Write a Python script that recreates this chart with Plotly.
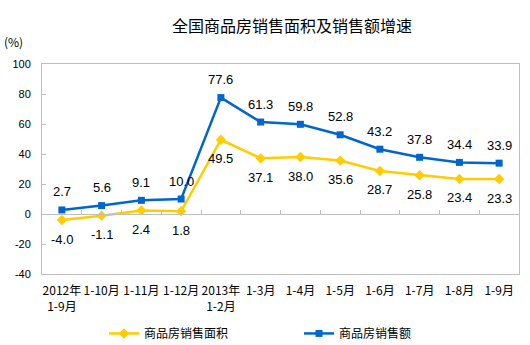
import plotly.graph_objects as go

categories = ["2012年<br>1-9月", "1-10月", "1-11月", "1-12月", "2013年<br>1-2月",
              "1-3月", "1-4月", "1-5月", "1-6月", "1-7月", "1-8月", "1-9月"]
area_growth = [-4.0, -1.1, 2.4, 1.8, 49.5, 37.1, 38.0, 35.6, 28.7, 25.8, 23.4, 23.3]
sales_growth = [2.7, 5.6, 9.1, 10.0, 77.6, 61.3, 59.8, 52.8, 43.2, 37.8, 34.4, 33.9]
area_name = "商品房销售面积"
sales_name = "商品房销售额"
yticks = [-40, -20, 0, 20, 40, 60, 80, 100]
ytick_labels = ["-40", "-20", "0", "20", "40", "60", "80", "100"]

YELLOW = "#FFCC00"
BLUE = "#0066CC"
GRAY = "#BFBFBF"
NUM_FONT = "Liberation Sans, Arial, sans-serif"
CJK_FONT = "Noto Sans CJK SC, sans-serif"

xs = list(range(len(categories)))

fig = go.Figure()
fig.add_trace(go.Scatter(
    x=xs, y=area_growth, name=area_name, mode="lines+markers",
    line=dict(color=YELLOW, width=2.5),
    marker=dict(symbol="diamond", size=8, color=YELLOW),
))
fig.add_trace(go.Scatter(
    x=xs, y=sales_growth, name=sales_name, mode="lines+markers",
    line=dict(color=BLUE, width=2.5),
    marker=dict(symbol="square", size=7, color=BLUE),
))
# helper trace for the zero axis with its category ticks
fig.add_trace(go.Scatter(x=[], y=[], xaxis="x2", showlegend=False, hoverinfo="skip"))

annotations = []
for i, v in enumerate(sales_growth):
    annotations.append(dict(x=i, y=v, text=f"{v:.1f}", showarrow=False, yshift=18,
                            font=dict(family=NUM_FONT, size=13, color="#000")))
for i, v in enumerate(area_growth):
    annotations.append(dict(x=i, y=v, text=f"{v:.1f}", showarrow=False, yshift=-19,
                            font=dict(family=NUM_FONT, size=13, color="#000")))
annotations.append(dict(xref="paper", yref="paper", x=-0.083, y=1.105, xanchor="left",
                        yanchor="middle", text="(%)", showarrow=False,
                        font=dict(family=CJK_FONT, size=12, color="#000")))

n = len(categories)
fig.update_layout(
    width=530, height=345,
    margin=dict(l=42, r=11, t=64, b=71, autoexpand=False),
    paper_bgcolor="white", plot_bgcolor="white",
    title=dict(text="全国商品房销售面积及销售额增速", x=0.551, xanchor="center",
               y=1 - 26 / 345, yanchor="middle",
               font=dict(family=CJK_FONT, size=16, color="#000")),
    xaxis=dict(range=[-0.5, n - 0.5], tickvals=xs, ticktext=categories,
               showgrid=False, zeroline=False, showline=True, linecolor=GRAY,
               linewidth=1, mirror=True, ticks="", ticklabelstandoff=6,
               tickfont=dict(family=CJK_FONT, size=12, color="#000")),
    xaxis2=dict(overlaying="x", anchor="free", position=40 / 140, side="bottom",
                range=[-0.5, n - 0.5], tickvals=[i + 0.5 for i in range(n - 1)],
                showticklabels=False, showgrid=False, zeroline=False,
                showline=True, linecolor=GRAY, linewidth=1,
                ticks="inside", ticklen=4, tickcolor=GRAY),
    yaxis=dict(range=[-40, 100], tickvals=yticks, ticktext=ytick_labels,
               showgrid=False, zeroline=False,
               showline=True, linecolor=GRAY, linewidth=1, mirror=True,
               ticks="inside", ticklen=4, tickcolor=GRAY, ticklabelstandoff=8,
               tickfont=dict(family=NUM_FONT, size=11, color="#000")),
    legend=dict(orientation="h", x=0.13, xanchor="left", y=-0.283, yanchor="middle",
                entrywidth=150, entrywidthmode="pixels",
                font=dict(family=CJK_FONT, size=12, color="#000")),
    annotations=annotations,
    showlegend=True,
)

fig.write_html("out.html")
